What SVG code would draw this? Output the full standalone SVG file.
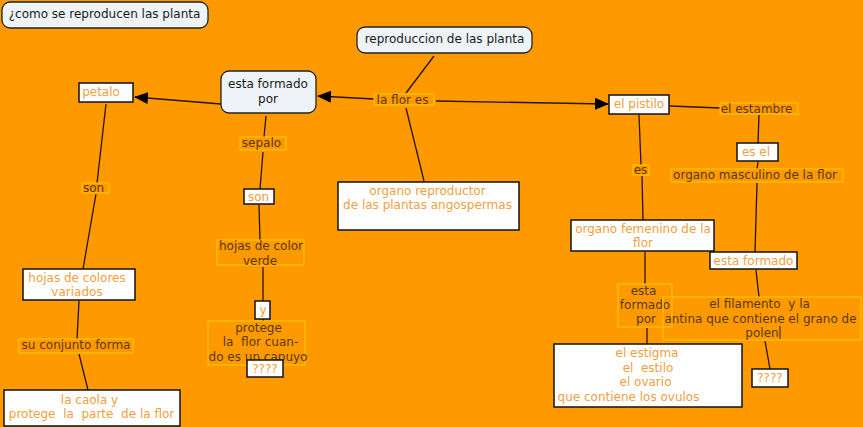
<svg xmlns="http://www.w3.org/2000/svg" width="863" height="427" viewBox="0 0 863 427">
<defs>
<style>
text{font-family:"DejaVu Sans",Verdana,sans-serif;font-size:12px;text-anchor:middle;white-space:pre}
.c rect{fill:#EDF3F6;stroke:#222;stroke-width:1.3}
.c text{fill:#1a1a1a}
.w rect{fill:#fff;stroke:#111;stroke-width:1.5}
.w text{fill:#F0A040}
.l rect{fill:none;stroke:#FFCC00;stroke-width:1}
.l text{fill:#5A3A00}
#connectors line{stroke:#241400;stroke-width:1.3}
</style>
<marker id="ah" markerWidth="14" markerHeight="12" refX="13" refY="6" orient="auto" markerUnits="userSpaceOnUse">
<path d="M0,0 L14,6 L0,12 z" fill="#000"/>
</marker>
</defs>
<rect width="863" height="427" fill="#FF9900"/>
<g id="connectors">
<line x1="434" y1="56" x2="406" y2="93"/>
<line x1="374" y1="99" x2="318" y2="96" marker-end="url(#ah)"/>
<line x1="436" y1="101" x2="608" y2="104" marker-end="url(#ah)"/>
<line x1="406" y1="108" x2="424" y2="181"/>
<line x1="221" y1="104" x2="135" y2="97" marker-end="url(#ah)"/>
<line x1="266" y1="116" x2="264" y2="137"/>
<line x1="263" y1="152" x2="260" y2="189"/>
<line x1="259" y1="205" x2="260" y2="240"/>
<line x1="263" y1="267" x2="263" y2="301"/>
<line x1="263" y1="319" x2="263" y2="321"/>
<line x1="106" y1="104" x2="97" y2="183"/>
<line x1="96" y1="194" x2="83" y2="269"/>
<line x1="79" y1="301" x2="77" y2="339"/>
<line x1="79" y1="354" x2="88" y2="390"/>
<line x1="670" y1="106" x2="720" y2="108"/>
<line x1="639" y1="115" x2="641" y2="165"/>
<line x1="642" y1="176" x2="643" y2="220"/>
<line x1="759" y1="115" x2="758" y2="143"/>
<line x1="758" y1="162" x2="757" y2="169"/>
<line x1="757" y1="183" x2="755" y2="252"/>
<line x1="756" y1="270" x2="759" y2="297"/>
<line x1="765" y1="341" x2="770" y2="369"/>
<line x1="645" y1="252" x2="645" y2="284"/>
<line x1="647" y1="328" x2="647" y2="344"/>
</g>
<g id="n-title" class="c"><rect x="2" y="2" width="206" height="26" rx="8"/><text x="104.5" y="18">¿como se reproducen las planta</text></g>
<g id="n-reproduccion" class="c"><rect x="357" y="27" width="175" height="26" rx="8"/><text x="444.5" y="43">reproduccion de las planta</text></g>
<g id="n-esta-formado-por" class="c"><rect x="221" y="71" width="95" height="42" rx="8"/><text x="268" y="88">esta formado</text><text x="268" y="103">por</text></g>
<g id="n-petalo" class="w"><rect x="79" y="83" width="54" height="19"/><text x="101" y="96">petalo</text></g>
<g id="l-son1" class="l"><rect x="82" y="183" width="27" height="10"/><text x="93.5" y="192">son</text></g>
<g id="l-sepalo" class="l"><rect x="240" y="137" width="46" height="13"/><text x="261.5" y="147">sepalo</text></g>
<g id="n-son2" class="w"><rect x="244" y="189" width="30" height="15"/><text x="258.5" y="201">son</text></g>
<g id="n-hojas-colores" class="w"><rect x="23" y="269" width="112" height="31"/><text x="77" y="282">hojas de colores</text><text x="77" y="296">variados</text></g>
<g id="l-conjunto" class="l"><rect x="19" y="339" width="114" height="14"/><text x="76" y="349">su conjunto forma</text></g>
<g id="n-caola" class="w"><rect x="4" y="390" width="176" height="36"/><text x="89.5" y="404">la caola y</text><text x="91.5" y="418">protege  la  parte  de la flor</text></g>
<g id="l-hojas-verde" class="l"><rect x="217" y="240" width="87" height="25"/><text x="261" y="250">hojas de color</text><text x="260" y="265">verde</text></g>
<g id="n-y" class="w"><rect x="255" y="301" width="15" height="18"/><text x="263" y="314">y</text></g>
<g id="l-protege" class="l"><rect x="208" y="321" width="97" height="44"/><text x="258.5" y="332">protege</text><text x="260.5" y="346">la  flor cuan-</text><text x="258" y="361">do es un capuyo</text></g>
<g id="n-q1" class="w"><rect x="247" y="360" width="36" height="17"/><text x="265" y="373">????</text></g>
<g id="l-flor-es" class="l"><rect x="374" y="94" width="60" height="11"/><text x="402.5" y="104">la flor es</text></g>
<g id="n-organo-reproductor" class="w"><rect x="338" y="182" width="181" height="48"/><text x="427.5" y="195">organo reproductor</text><text x="427.5" y="209">de las plantas angospermas</text></g>
<g id="n-pistilo" class="w"><rect x="609" y="95" width="60" height="19"/><text x="639" y="108">el pistilo</text></g>
<g id="l-estambre" class="l"><rect x="720" y="103" width="78" height="11"/><text x="756.5" y="113">el estambre</text></g>
<g id="l-es" class="l"><rect x="633" y="165" width="16" height="10"/><text x="640.5" y="174">es</text></g>
<g id="n-es-el" class="w"><rect x="737" y="143" width="41" height="18"/><text x="756" y="156">es el</text></g>
<g id="l-masculino" class="l"><rect x="671" y="169" width="172" height="13"/><text x="755" y="179">organo masculino de la flor</text></g>
<g id="n-femenino" class="w"><rect x="571" y="220" width="143" height="31"/><text x="643" y="233">organo femenino de la</text><text x="643" y="247">flor</text></g>
<g id="n-esta-formado" class="w"><rect x="710" y="252" width="87" height="17"/><text x="753.5" y="265">esta formado</text></g>
<g id="l-esta-formado-por" class="l"><rect x="618" y="284" width="54" height="43"/><text x="643.5" y="295">esta</text><text x="645" y="309">formado</text><text x="646" y="323">por</text></g>
<g id="l-filamento" class="l"><rect x="663" y="297" width="198" height="43"/><text x="759.5" y="308">el filamento  y la</text><text x="760.5" y="322.5">antina que contiene el grano de</text><text x="762" y="337">polen</text><line x1="780" y1="326" x2="780" y2="339" stroke="#222" stroke-width="1"/></g>
<g id="n-estigma" class="w"><rect x="554" y="344" width="188" height="63"/><text x="647" y="357">el estigma</text><text x="648" y="372">el  estilo</text><text x="645.5" y="386">el ovario</text><text x="628.5" y="401">que contiene los ovulos</text></g>
<g id="n-q2" class="w"><rect x="752" y="369" width="36" height="18"/><text x="770" y="382">????</text></g>
</svg>
